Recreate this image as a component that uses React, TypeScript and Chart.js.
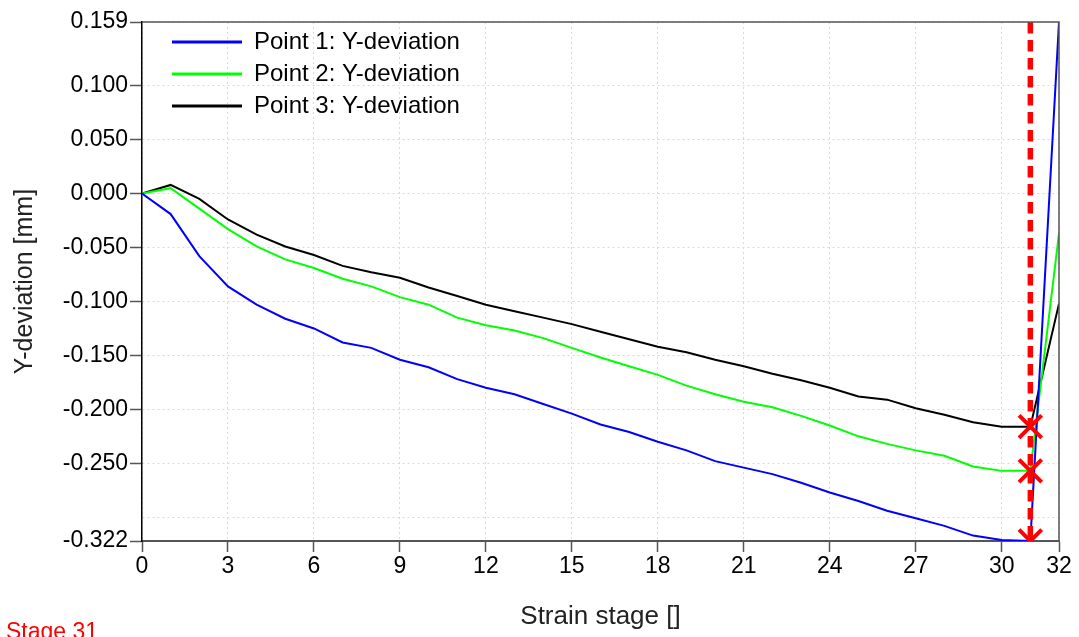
import React, { useEffect, useRef } from 'react';
import { Chart, registerables } from 'chart.js';

Chart.register(...registerables);

// ---- data ----
const stages = [0, 1, 2, 3, 4, 5, 6, 7, 8, 9, 10, 11, 12, 13, 14, 15, 16, 17, 18, 19, 20, 21, 22, 23, 24, 25, 26, 27, 28, 29, 30, 31, 32];
const point1 = [0, -0.019, -0.058, -0.086, -0.103, -0.116, -0.125, -0.138, -0.143, -0.154, -0.161, -0.172, -0.18, -0.186, -0.195, -0.204, -0.214, -0.221, -0.23, -0.238, -0.248, -0.254, -0.26, -0.268, -0.277, -0.285, -0.294, -0.301, -0.308, -0.317, -0.321, -0.322, 0.159];
const point2 = [0, 0.005, -0.014, -0.033, -0.049, -0.061, -0.069, -0.079, -0.086, -0.096, -0.103, -0.115, -0.122, -0.127, -0.134, -0.143, -0.152, -0.16, -0.168, -0.178, -0.186, -0.193, -0.198, -0.206, -0.215, -0.225, -0.232, -0.238, -0.243, -0.253, -0.257, -0.257, -0.037];
const point3 = [0, 0.008, -0.005, -0.024, -0.038, -0.049, -0.057, -0.067, -0.073, -0.078, -0.087, -0.095, -0.103, -0.109, -0.115, -0.121, -0.128, -0.135, -0.142, -0.147, -0.154, -0.16, -0.167, -0.173, -0.18, -0.188, -0.191, -0.199, -0.205, -0.212, -0.216, -0.216, -0.102];
const seriesLabels = ['Point 1: Y-deviation', 'Point 2: Y-deviation', 'Point 3: Y-deviation'];
const seriesColors = ['#0000ff', '#00ff00', '#000000'];
const currentStage = 31;
const yMin = -0.322;
const yMax = 0.159;
const xMin = 0;
const xMax = 32;
const xTicks = [0, 3, 6, 9, 12, 15, 18, 21, 24, 27, 30, 32];
const yTicks = [0.159, 0.1, 0.05, 0, -0.05, -0.1, -0.15, -0.2, -0.25, -0.3, -0.322];
const yUnlabeled = [-0.3];
const xTitle = 'Strain stage []';
const yTitle = 'Y-deviation [mm]';
const stageText = 'Stage 31';

const FONT = "'Liberation Sans', Arial, sans-serif";

const framePlugin = {
  id: 'frame',
  afterDatasetsDraw(chart: any) {
    const { ctx, chartArea } = chart;
    ctx.save();
    ctx.strokeStyle = '#555555';
    ctx.lineWidth = 1.5;
    ctx.beginPath();
    ctx.moveTo(chartArea.left, chartArea.top);
    ctx.lineTo(chartArea.right, chartArea.top);
    ctx.lineTo(chartArea.right, chartArea.bottom);
    ctx.stroke();
    ctx.restore();
  },
};

const legendPlugin = {
  id: 'insideLegend',
  afterDraw(chart: any) {
    const { ctx, chartArea } = chart;
    ctx.save();
    const x0 = chartArea.left + 30;
    let y = chartArea.top + 20;
    seriesLabels.forEach((label, i) => {
      ctx.strokeStyle = seriesColors[i];
      ctx.lineWidth = 3;
      ctx.beginPath();
      ctx.moveTo(x0, y);
      ctx.lineTo(x0 + 70, y);
      ctx.stroke();
      ctx.fillStyle = '#000000';
      ctx.font = `24px ${FONT}`;
      ctx.textBaseline = 'middle';
      ctx.textAlign = 'left';
      ctx.fillText(label, x0 + 82, y);
      y += 32;
    });
    ctx.restore();
  },
};

const stagePlugin = {
  id: 'stageText',
  afterDraw(chart: any) {
    const { ctx } = chart;
    ctx.save();
    ctx.fillStyle = '#ff0000';
    ctx.font = `23px ${FONT}`;
    ctx.textBaseline = 'alphabetic';
    ctx.textAlign = 'left';
    ctx.fillText(stageText, 6, 639);
    ctx.restore();
  },
};

export default function App() {
  const canvasRef = useRef<HTMLCanvasElement | null>(null);

  useEffect(() => {
    document.body.style.margin = '0';
    const canvas = canvasRef.current;
    if (!canvas) return;
    const idx = stages.indexOf(currentStage);
    const series = [point1, point2, point3];

    const seriesDatasets = series.map((vals, i) => ({
      label: seriesLabels[i],
      data: stages.map((s, j) => ({ x: s, y: vals[j] })),
      borderColor: seriesColors[i],
      backgroundColor: seriesColors[i],
      borderWidth: 2,
      pointRadius: 0,
      tension: 0,
      fill: false,
      order: 2 + i,
    }));

    const chart = new Chart(canvas, {
      type: 'line',
      data: {
        datasets: [
          {
            label: 'markers',
            data: series.map((vals) => ({ x: currentStage, y: vals[idx] })),
            showLine: false,
            pointStyle: 'crossRot',
            pointRadius: 16,
            pointBorderWidth: 4,
            pointBorderColor: '#ff0000',
            pointBackgroundColor: '#ff0000',
            borderColor: '#ff0000',
            clip: 0,
            order: 0,
          } as any,
          {
            label: 'stage',
            data: [
              { x: currentStage, y: yMax },
              { x: currentStage, y: yMin },
            ],
            borderColor: '#ff0000',
            borderWidth: 5.5,
            borderDash: [11.5, 6.5],
            pointRadius: 0,
            order: 1,
          } as any,
          ...seriesDatasets,
        ],
      },
      options: {
        responsive: false,
        animation: false,
        devicePixelRatio: 1,
        layout: { padding: { top: 22, right: 16, left: 0, bottom: 0 } },
        plugins: {
          legend: { display: false },
          tooltip: { enabled: false },
        },
        scales: {
          x: {
            type: 'linear',
            min: xMin,
            max: xMax,
            afterBuildTicks: (scale: any) => {
              scale.ticks = xTicks.map((v) => ({ value: v }));
            },
            afterFit: (scale: any) => {
              scale.height = 96;
              scale.paddingLeft = 0;
              scale.paddingRight = 0;
            },
            ticks: {
              autoSkip: false,
              maxRotation: 0,
              padding: 1,
              color: '#000000',
              font: { family: FONT, size: 23 },
              callback: (v: any) => String(v),
            },
            grid: {
              color: '#d9d9d9',
              lineWidth: 1,
              tickColor: '#555555',
              tickLength: 11,
              tickWidth: 1.5,
            },
            border: { color: '#555555', width: 2, dash: [2, 3] },
            title: {
              display: true,
              text: xTitle,
              color: '#222222',
              font: { family: FONT, size: 26 },
              padding: { top: 0, bottom: 5 },
            },
          },
          y: {
            type: 'linear',
            min: yMin,
            max: yMax,
            afterBuildTicks: (scale: any) => {
              scale.ticks = yTicks.map((v) => ({ value: v }));
            },
            afterFit: (scale: any) => {
              scale.width = 142;
              scale.paddingTop = 0;
              scale.paddingBottom = 0;
            },
            ticks: {
              autoSkip: false,
              padding: 2,
              color: '#000000',
              font: { family: FONT, size: 23 },
              callback: (v: any) => (yUnlabeled.includes(Number(v)) ? '' : Number(v).toFixed(3)),
            },
            grid: {
              color: '#d9d9d9',
              lineWidth: 1,
              tickColor: (ctx: any) => (ctx.tick && yUnlabeled.includes(ctx.tick.value) ? 'rgba(0,0,0,0)' : '#555555'),
              tickLength: 12,
              tickWidth: 1.5,
            },
            border: { color: '#000000', width: 1.5, dash: [2, 3] },
            title: {
              display: true,
              text: yTitle,
              color: '#222222',
              font: { family: FONT, size: 25 },
              padding: { top: 10, bottom: 0 },
            },
          },
        },
      } as any,
      plugins: [framePlugin, legendPlugin, stagePlugin],
    });

    return () => chart.destroy();
  }, []);

  return (
    <div style={{ width: 1079, height: 637, overflow: 'hidden', background: '#ffffff' }}>
      <canvas ref={canvasRef} width={1079} height={637} style={{ display: 'block' }} />
    </div>
  );
}
